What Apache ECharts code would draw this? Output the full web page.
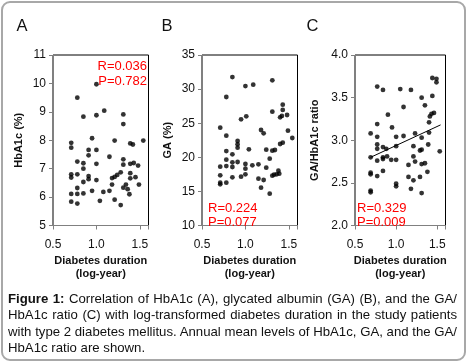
<!DOCTYPE html>
<html>
<head>
<meta charset="utf-8">
<script src="https://cdn.jsdelivr.net/npm/echarts@6/dist/echarts.min.js"></script>
<style>
  html, body { margin: 0; padding: 0; background: #fff; }
  #wrap { position: relative; width: 467px; height: 363px; overflow: hidden; }
  #chart { position: absolute; left: 0; top: 0; width: 467px; height: 363px; }
  #frame { position: absolute; left: 1px; top: 1px; width: 461px; height: 356px;
           border: 2px solid #a8a8a8; border-radius: 9px; pointer-events: none; }
  #cap { position: absolute; left: 8px; top: 290.5px; width: 449px;
         font-family: 'Liberation Sans', Arial, sans-serif; font-size: 13.2px;
         line-height: 16.6px; color: #111; }
  #cap .ln { display: block; white-space: nowrap; }
  #cap .ln span { display: inline-block; white-space: nowrap; }
</style>
</head>
<body>
<div id="wrap">
  <div id="chart"></div>
  <div id="frame"></div>
  <div id="cap">
    <div class="ln j"><span><b>Figure 1:</b> Correlation of HbA1c (A), glycated albumin (GA) (B), and the GA/</span></div>
    <div class="ln j"><span>HbA1c ratio (C) with log-transformed diabetes duration in the study patients</span></div>
    <div class="ln j"><span>with type 2 diabetes mellitus. Annual mean levels of HbA1c, GA, and the GA/</span></div>
    <div class="ln"><span>HbA1c ratio are shown.</span></div>
  </div>
</div>
<script>
// ---- Data ----
const aX = [1.00,0.78,0.85,1.00,1.09,1.31,1.31,0.95,1.21,0.71,0.71,1.39,1.42,1.54,0.91,0.91,1.00,1.15,0.78,0.85,0.85,1.00,1.31,1.31,1.39,1.43,1.48,0.71,0.71,0.78,0.91,0.91,1.00,0.85,1.18,1.21,1.24,1.28,1.39,1.39,1.45,0.78,1.18,1.31,1.34,1.36,1.49,0.71,0.78,0.85,0.95,1.08,1.15,1.38,0.71,0.78,1.04,1.21,1.28];
const aY = [9.97,9.50,8.83,8.88,9.04,8.91,8.57,8.07,7.99,7.91,7.74,7.89,7.85,7.99,7.66,7.47,7.66,7.42,7.25,7.19,7.00,7.17,7.33,7.14,7.17,7.20,7.11,6.80,6.69,6.80,6.74,6.63,6.60,6.53,6.67,6.71,6.78,6.87,6.84,6.66,6.70,6.32,6.44,6.33,6.44,6.28,6.44,6.11,6.11,6.13,6.22,6.18,6.22,6.10,5.84,5.77,5.87,5.91,5.72];

const bX = [0.85,1.00,1.09,1.31,0.78,1.43,1.43,1.31,1.40,1.42,1.48,0.95,1.01,0.71,1.18,1.21,1.49,1.54,0.78,0.91,0.91,0.91,1.04,1.40,1.43,0.78,0.85,1.24,1.31,1.34,1.28,0.78,0.85,0.91,0.85,0.78,0.71,1.00,1.08,1.15,1.00,1.24,1.38,0.71,0.85,0.95,1.00,1.15,1.21,1.31,1.33,1.36,1.39,0.71,0.71,0.78,1.18,1.28];
const bY = [31.77,30.45,30.65,31.29,28.84,27.72,26.94,26.69,25.86,26.06,26.20,25.57,26.01,24.35,24.00,23.51,23.90,22.83,23.17,22.39,21.90,21.41,21.17,21.95,22.15,20.92,20.43,21.12,20.97,21.07,19.80,19.65,19.26,19.31,18.58,18.72,18.63,19.02,18.82,18.97,18.33,18.48,18.04,17.36,17.06,17.16,17.50,16.87,16.67,17.31,17.45,17.50,17.60,16.28,16.04,16.28,15.55,14.67];

const cX = [1.44,1.49,1.49,0.77,0.84,1.05,1.18,1.31,1.44,1.09,1.35,0.90,1.46,1.43,1.41,1.40,0.77,0.95,0.69,0.77,1.00,1.09,1.23,1.31,1.40,0.77,0.77,0.84,0.88,1.00,1.21,1.31,1.29,1.39,1.53,0.69,0.77,0.84,0.84,0.89,0.94,1.00,1.21,1.31,1.35,1.15,1.23,0.69,0.69,0.77,0.84,1.38,1.15,1.21,1.29,1.00,1.00,1.18,1.31,0.69,0.69];
const cY = [3.73,3.72,3.68,3.63,3.59,3.60,3.59,3.50,3.52,3.39,3.41,3.30,3.32,3.31,3.28,3.21,3.19,3.15,3.08,3.04,3.04,3.05,3.08,3.03,3.09,2.95,2.90,2.92,2.90,2.93,2.93,2.89,2.88,2.95,2.87,2.80,2.76,2.80,2.78,2.81,2.77,2.77,2.81,2.72,2.73,2.71,2.75,2.62,2.60,2.58,2.64,2.63,2.57,2.53,2.57,2.49,2.46,2.43,2.38,2.41,2.39];

// regression line endpoints for panel C
const cFitX = [0.69, 1.54];
const cFitY = [2.80, 3.18];

const panelLetters = ['A', 'B', 'C'];
const yNames = ['HbA1c (%)', 'GA (%)', 'GA/HbA1c ratio'];
const xName = 'Diabetes duration\n(log-year)';
const xTicks = [0.5, 1.0, 1.5];
const yRanges = [[5, 11, 1], [10, 35, 5], [2.0, 4.0, 0.5]];
const stats = [['R=0.036', 'P=0.782'], ['R=0.224', 'P=0.077'], ['R=0.329', 'P=0.009']];

// ---- Caption justification (stretch word spacing to fill the line) ----
(function justifyCaption() {
  const W = 449;
  document.querySelectorAll('#cap .j span').forEach(sp => {
    const w = sp.getBoundingClientRect().width;
    const n = (sp.textContent.match(/ /g) || []).length;
    if (n > 0 && w < W) sp.style.wordSpacing = ((W - w) / n) + 'px';
  });
})();

// ---- Layout ----
const FONT = "'Liberation Sans', Arial, sans-serif";
const grids = [
  { left: 53, top: 55, width: 95.5, height: 170.5 },
  { left: 202, top: 55, width: 95.5, height: 170.5 },
  { left: 355, top: 55, width: 90.5, height: 170.5 }
];
const yNameGaps = [29, 29, 35];
const yDecimals = [0, 0, 1];

const chart = echarts.init(document.getElementById('chart'), null, { renderer: 'canvas' });

const xAxes = grids.map((g, i) => ({
  gridIndex: i, type: 'value', min: 0.5, max: 1.6, interval: 0.5,
  name: xName, nameLocation: 'middle', nameGap: 28.5,
  nameTextStyle: { fontFamily: FONT, fontWeight: 'bold', fontSize: 11, color: '#111', lineHeight: 13.5 },
  axisLine: { show: true, onZero: false, lineStyle: { color: '#808080', width: 1 } },
  axisTick: { show: true, inside: false, length: 4, lineStyle: { color: '#808080' } },
  axisLabel: {
    margin: 13, fontFamily: FONT, fontSize: 12, color: '#111',
    formatter: v => (xTicks.some(t => Math.abs(t - v) < 1e-6) ? v.toFixed(1) : '')
  },
  splitLine: { show: false }
}));

const yAxes = grids.map((g, i) => ({
  gridIndex: i, type: 'value', min: yRanges[i][0], max: yRanges[i][1], interval: yRanges[i][2],
  name: yNames[i], nameLocation: 'middle', nameGap: yNameGaps[i], nameRotate: 90,
  nameTextStyle: { fontFamily: FONT, fontWeight: 'bold', fontSize: 11, color: '#111' },
  axisLine: { show: true, onZero: false, lineStyle: { color: '#808080', width: 1 } },
  axisTick: { show: true, inside: false, length: 4, lineStyle: { color: '#808080' } },
  axisLabel: { margin: 7, fontFamily: FONT, fontSize: 12, color: '#111',
               formatter: v => v.toFixed(yDecimals[i]) },
  splitLine: { show: false }
}));

const pts = (xs, ys) => xs.map((x, k) => [x, ys[k]]);
const scatterStyle = { color: '#000' };
const series = [
  { type: 'scatter', xAxisIndex: 0, yAxisIndex: 0, data: pts(aX, aY), symbolSize: 4.8, itemStyle: scatterStyle, z: 3 },
  { type: 'scatter', xAxisIndex: 1, yAxisIndex: 1, data: pts(bX, bY), symbolSize: 4.8, itemStyle: scatterStyle, z: 3 },
  { type: 'scatter', xAxisIndex: 2, yAxisIndex: 2, data: pts(cX, cY), symbolSize: 4.8, itemStyle: scatterStyle, z: 3 },
  { type: 'line', xAxisIndex: 2, yAxisIndex: 2, data: pts(cFitX, cFitY), symbol: 'none',
    lineStyle: { color: '#000', width: 1 }, z: 4, silent: true }
];

const letterPos = [[16.5, 27], [161.5, 27], [306.5, 27]];
const graphics = [];
panelLetters.forEach((L, i) => {
  graphics.push({ type: 'text', left: letterPos[i][0], top: letterPos[i][1] - 9, silent: true,
    style: { text: L, fill: '#111', font: '16.5px ' + FONT } });
});
const statStyle = '13px ' + FONT;
// A: top-right
graphics.push({ type: 'text', silent: true, z: 10, x: 147, y: 66.5,
  style: { text: stats[0][0], fill: '#ff0000', font: statStyle, align: 'right', verticalAlign: 'middle' } });
graphics.push({ type: 'text', silent: true, z: 10, x: 147, y: 81,
  style: { text: stats[0][1], fill: '#ff0000', font: statStyle, align: 'right', verticalAlign: 'middle' } });
// B and C: bottom-left
[[208, 1], [357, 2]].forEach(([x, i]) => {
  graphics.push({ type: 'text', silent: true, z: 10, x: x, y: 208,
    style: { text: stats[i][0], fill: '#ff0000', font: statStyle, align: 'left', verticalAlign: 'middle' } });
  graphics.push({ type: 'text', silent: true, z: 10, x: x, y: 222,
    style: { text: stats[i][1], fill: '#ff0000', font: statStyle, align: 'left', verticalAlign: 'middle' } });
});

chart.setOption({
  animation: false,
  backgroundColor: '#fff',
  grid: grids.map(g => Object.assign({ show: true, borderColor: '#000', borderWidth: 1,
                                       backgroundColor: 'transparent', containLabel: false }, g)),
  xAxis: xAxes,
  yAxis: yAxes,
  series: series,
  graphic: graphics
});
</script>
</body>
</html>
